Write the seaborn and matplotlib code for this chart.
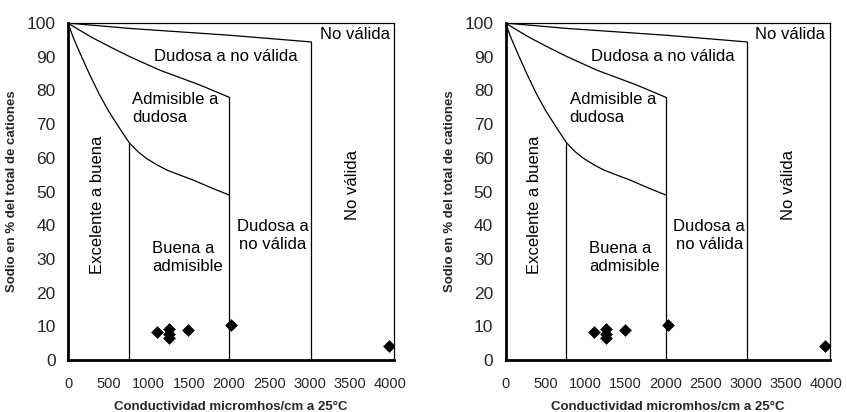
import pandas as pd
import seaborn as sns
import matplotlib.pyplot as plt

# Boundary curves of the classification diagram (conductivity vs % sodium)
upper_x = [0, 770, 2000, 3020]
upper_y = [100, 98.4, 96.4, 94.4]

middle_x = [0, 150, 315, 550, 770, 1143, 1640, 2000]
middle_y = [100, 97.8, 95.5, 92.6, 90, 86, 81.6, 78]

lower_x = [0, 60, 150, 273, 390, 501, 646, 760, 870, 977, 1100, 1226, 1400, 1557, 1780, 2000]
lower_y = [100, 96, 91, 84.5, 78.8, 74, 68.6, 64.5, 61.8, 59.8, 58, 56.4, 54.8, 53.4, 51.1, 49]

# Vertical limits (x position, top of the line)
vline_x = [760, 2000, 3020]
vline_top = [64.5, 78, 94.4]

# Water samples
sample_x = [1100, 1255, 1255, 1255, 1490, 2030, 3990]
sample_y = [8.3, 9.2, 6.5, 7.7, 8.9, 10.3, 4.2]

x_ticks = [0, 500, 1000, 1500, 2000, 2500, 3000, 3500, 4000]
y_ticks = [0, 10, 20, 30, 40, 50, 60, 70, 80, 90, 100]

sns.set_style("white")
plt.rcParams['font.family'] = ['Liberation Sans', 'DejaVu Sans']


def draw_panel(ax):
    """Draw one copy of the diagram on the given axes."""
    for xs, ys in [(upper_x, upper_y), (middle_x, middle_y), (lower_x, lower_y)]:
        sns.lineplot(x=xs, y=ys, ax=ax, color='black', linewidth=0.9, sort=False, estimator=None)
    for xv, top in zip(vline_x, vline_top):
        sns.lineplot(x=[xv, xv], y=[0, top], ax=ax, color='black', linewidth=0.9, estimator=None)

    samples = pd.DataFrame({'x': sample_x, 'y': sample_y})
    sns.scatterplot(data=samples, x='x', y='y', ax=ax, marker='D', s=36,
                    color='black', edgecolor='black', zorder=5)

    tkw = dict(fontsize=12, color='black')
    ax.text(3560, 96.6, 'No válida', ha='center', va='center', **tkw)
    ax.text(1960, 90, 'Dudosa a no válida', ha='center', va='center', **tkw)
    ax.text(800, 74.6, 'Admisible a\ndudosa', ha='left', va='center', linespacing=1.25, **tkw)
    ax.text(360, 46, 'Excelente a buena', rotation=90, ha='center', va='center', **tkw)
    ax.text(1045, 30.3, 'Buena a\nadmisible', ha='left', va='center', linespacing=1.25, **tkw)
    ax.text(2545, 37, 'Dudosa a\nno válida', ha='center', va='center', linespacing=1.25, **tkw)
    ax.text(3530, 52, 'No válida', rotation=90, ha='center', va='center', **tkw)

    ax.set_xlim(0, 4050)
    ax.set_ylim(0, 100)
    ax.set_xticks(x_ticks)
    ax.set_yticks(y_ticks)
    ax.tick_params(axis='x', direction='in', length=4, width=0.8, labelsize=10.5, pad=12)
    ax.tick_params(axis='y', direction='out', length=4, width=0.8, labelsize=12.5, pad=5)
    ax.set_xlabel('Conductividad micromhos/cm a 25°C', fontsize=9.5, fontweight='bold')
    ax.set_ylabel('Sodio en % del total de cationes', fontsize=9.5, fontweight='bold')
    ax.xaxis.set_label_coords(0.5, -0.12)
    ax.yaxis.set_label_coords(-0.152, 0.5)
    for side in ['left', 'bottom']:
        ax.spines[side].set_linewidth(2)
    for side in ['top', 'right']:
        ax.spines[side].set_linewidth(0.9)
    for sp in ax.spines.values():
        sp.set_color('black')


fig = plt.figure(figsize=(8.47, 4.12), dpi=100)
ax1 = fig.add_axes([0.0803, 0.126, 0.385, 0.818])
ax2 = fig.add_axes([0.597, 0.126, 0.3825, 0.818])
draw_panel(ax1)
draw_panel(ax2)

fig.savefig('out.png', dpi=100)
